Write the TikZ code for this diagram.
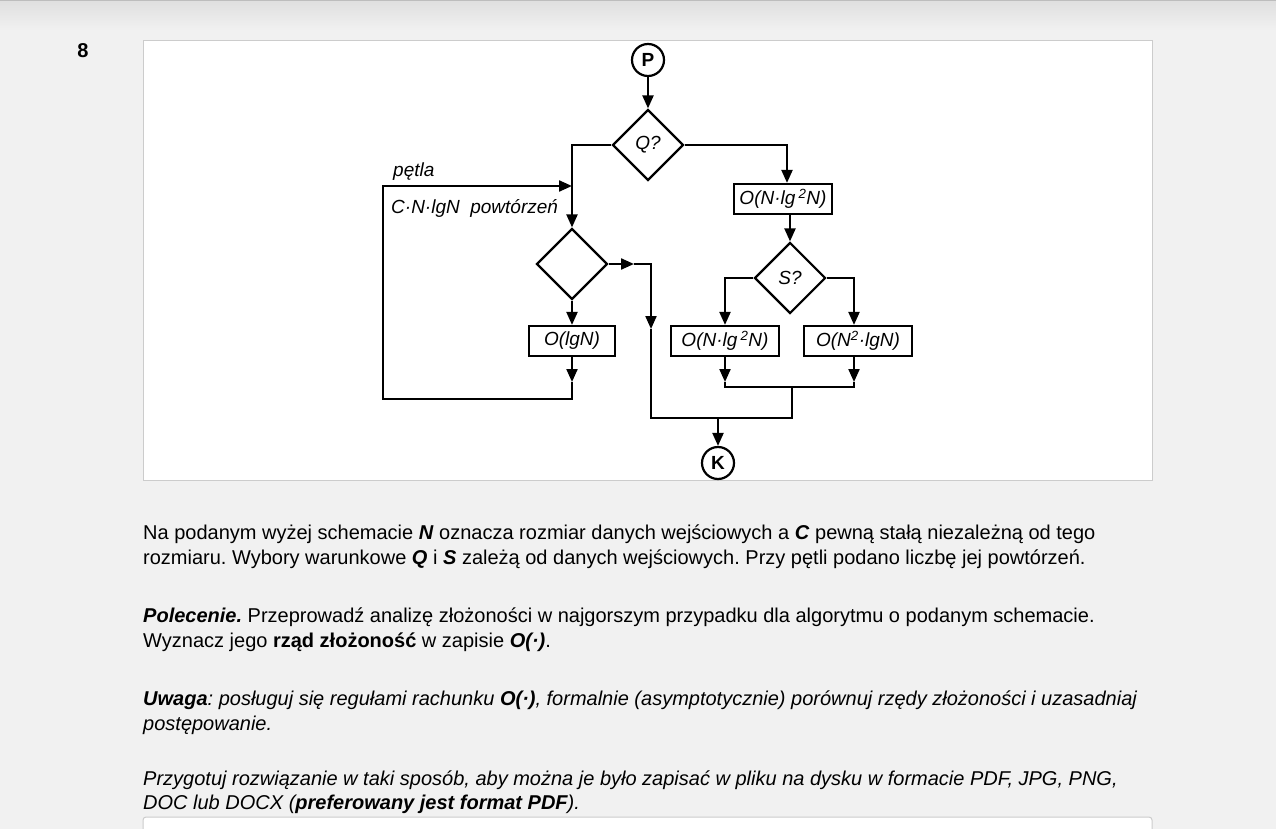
\documentclass[tikz,border=0pt]{standalone}
\usepackage{fontspec}
\setmainfont{Liberation Sans}
\usepackage{tikz}
\usetikzlibrary{shapes.geometric,arrows.meta}
\definecolor{pagebg}{HTML}{F1F1F1}
\definecolor{boxline}{HTML}{CCCCCC}
\definecolor{topline}{HTML}{BDBDBD}
\definecolor{topshade}{HTML}{DFDFDF}
\frenchspacing
\begin{document}
\begin{tikzpicture}[x=1pt,y=-1pt,>={Triangle[length=13pt,width=11pt]},
  flow/.style={line width=2.2pt},
  blk/.style={draw,line width=2.2pt,minimum height=30pt,inner sep=0pt,font=\fontsize{19}{22}\selectfont\itshape},
  dec/.style={draw,diamond,aspect=1,line width=2.2pt,minimum width=71pt,minimum height=71pt,inner sep=0pt,font=\fontsize{19}{22}\selectfont\itshape},
  term/.style={draw,circle,line width=2.2pt,minimum size=32pt,inner sep=0pt,font=\fontsize{19}{22}\selectfont\bfseries},
  lbl/.style={anchor=base west,inner sep=0pt,font=\fontsize{19}{22}\selectfont\itshape},
  txt/.style={anchor=base west,inner sep=0pt,font=\fontsize{20}{25}\selectfont}]
\useasboundingbox (0,0) rectangle (1276,829);
%page
\fill[pagebg] (0,0) rectangle (1276,829);
\shade[top color=topshade,bottom color=pagebg] (0,0) rectangle (1276,30);
\draw[topline,line width=1.5pt] (0,0.5) -- (1276,0.5);
\node[inner sep=0pt,font=\fontsize{20}{24}\selectfont\bfseries] (num) at (83,51) {8};
\draw[boxline,fill=white,line width=1pt] (143,41) rectangle (1152,480);
\draw[boxline,fill=white,line width=1pt,rounded corners=3pt] (143,817) rectangle (1152,845);

%flowchart nodes
\node[term] (P) at (648,60) {P};
\node[dec] (Q) at (648,145) {Q?};
\node[dec] (D) at (572,264) {};
\node[blk,minimum width=86pt] (L) at (572,341) {O(lgN)};
\node[blk,minimum width=98pt] (B1) at (783,199) {O(N·lg\,\textsuperscript{2}N)};
\node[dec] (S) at (790,278) {S?};
\node[blk,minimum width=108pt] (B2) at (725,341) {O(N·lg\,\textsuperscript{2}N)};
\node[blk,minimum width=108pt] (B3) at (858,341) {O(N\textsuperscript{2}·lgN)};
\node[term] (K) at (718,463) {K};

%corner points
\coordinate (qr) at (787,145);
\coordinate (sr) at (854,278);
\coordinate (lga) at (572,382);
\coordinate (lgb) at (572,399);
\coordinate (lpb) at (383,399);
\coordinate (lpt) at (383,186);
\coordinate (lpa) at (572,186);
\coordinate (da) at (634,264);
\coordinate (dc) at (651,264);
\coordinate (db) at (651,329);
\coordinate (mb) at (651,418);
\coordinate (mr) at (792,418);
\coordinate (mt) at (792,387);
\coordinate (m2) at (725,382);
\coordinate (j2) at (725,387);
\coordinate (j3) at (854,387);
\coordinate (m3) at (854,382);
\coordinate (kt) at (718,418);

%connectors
\draw[flow,->] (P) -- (Q);
\draw[flow,->] (Q.west) -| (D.north);
\draw[flow,->] (Q.east) -- (qr) -- (B1.north -| qr);
\draw[flow,->] (S.north |- B1.south) -- (S.north);
\draw[flow,->] (S.west) -| (B2.north);
\draw[flow,->] (S.east) -- (sr) -- (B3.north -| sr);
\draw[flow,->] (D) -- (L);
\draw[flow,->] (L.south) -- (lga);
\draw[flow,->] (lga) -- (lgb) -- (lpb) -- (lpt) -- (lpa);
\draw[flow,->] (D.east) -- (da);
\draw[flow,->] (da) -- (dc) -- (db);
\draw[flow] (db) -- (mb) -- (mr) -- (mt);
\draw[flow,->] (B2.south) -- (m2);
\draw[flow,->] (B3.south -| sr) -- (m3);
\draw[flow] (m2) -- (j2) -- (j3) -- (m3);
\draw[flow,->] (kt) -- (K);

%loop labels
\node[lbl] (petla) at (393,177) {pętla};
\node[lbl] (ile) at (391,213) {C·N·lgN\ \ powtórzeń};

%text below
\node[txt] (t1) at (143,539) {Na podanym wyżej schemacie \textbf{\textit{N}} oznacza rozmiar danych wejściowych a \textbf{\textit{C}} pewną stałą niezależną od tego};
\node[txt] (t2) at (143,564) {rozmiaru. Wybory warunkowe \textbf{\textit{Q}} i \textbf{\textit{S}} zależą od danych wejściowych. Przy pętli podano liczbę jej powtórzeń.};
\node[txt] (t3) at (143,622) {\textbf{\textit{Polecenie.}} Przeprowadź analizę złożoności w najgorszym przypadku dla algorytmu o podanym schemacie.};
\node[txt] (t4) at (143,647) {Wyznacz jego \textbf{rząd złożoność} w zapisie \textbf{\textit{O(·)}}.};
\node[txt,font=\fontsize{20}{25}\selectfont\itshape] (t5) at (143,705) {\textbf{Uwaga}: posługuj się regułami rachunku \textbf{O(·)}, formalnie (asymptotycznie) porównuj rzędy złożoności i uzasadniaj};
\node[txt,font=\fontsize{20}{25}\selectfont\itshape] (t6) at (143,730) {postępowanie.};
\node[txt,font=\fontsize{20}{25}\selectfont\itshape] (t7) at (143,785) {Przygotuj rozwiązanie w taki sposób, aby można je było zapisać w pliku na dysku w formacie PDF, JPG, PNG,};
\node[txt,font=\fontsize{20}{25}\selectfont\itshape] (t8) at (143,809) {DOC lub DOCX (\textbf{preferowany jest format PDF}).};
\end{tikzpicture}
\end{document}
